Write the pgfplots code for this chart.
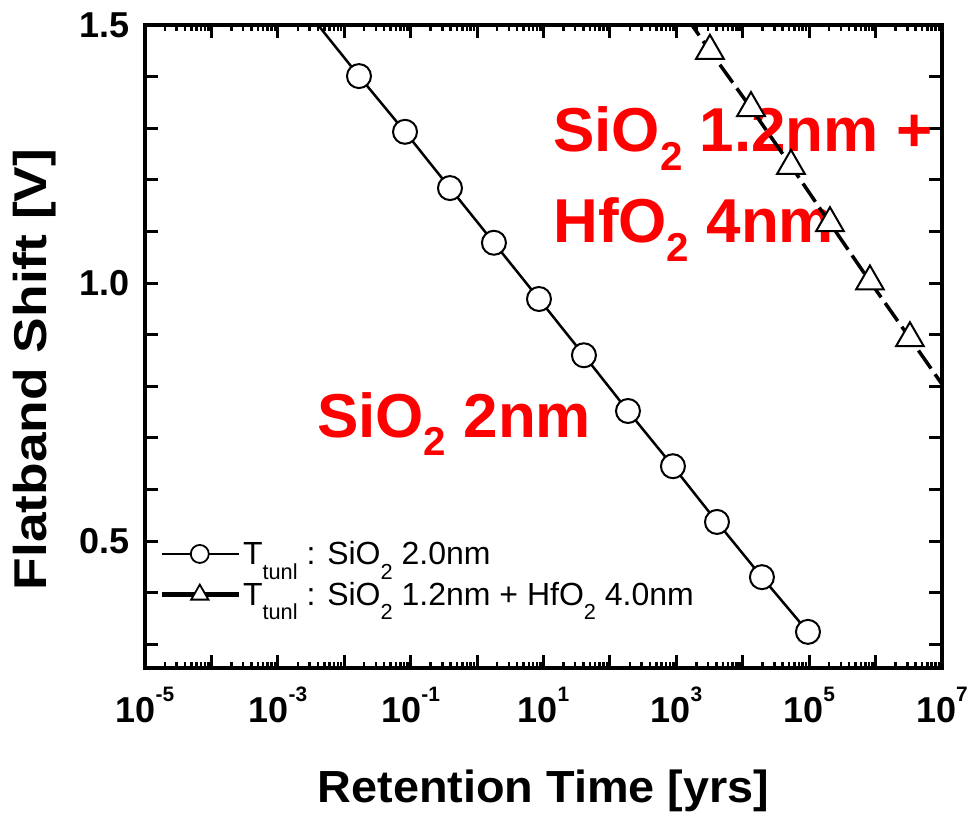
\documentclass[border=0pt]{standalone}
\usepackage{fontspec}
\setmainfont{Liberation Sans}
\usepackage{graphicx}
\usepackage{pgfplots}
\pgfplotsset{compat=1.18}

\newcommand{\sub}[1]{\raisebox{-0.3em}{\scalebox{0.65}{#1}}}
\newcommand{\lsub}[1]{\raisebox{-0.45em}{\scalebox{0.68}{#1}}}
\newcommand{\tl}[1]{10\raisebox{0.6em}{\scalebox{0.58}{#1}}}

\begin{document}
\begin{tikzpicture}
\begin{axis}[
  name=ax, at={(0pt,0pt)}, anchor=south west,
  scale only axis, width=797pt, height=643pt,
  xmode=log, log basis x=10,
  xmin=1e-5, xmax=1e7, ymin=0.254, ymax=1.5,
  axis line style={line width=4pt, line cap=rect},
  tick align=inside,
  major tick length=13pt, minor tick length=6pt,
  major tick style={line width=3pt, black},
  minor tick style={line width=2.5pt, black},
  xtick={1e-5,1e-4,1e-3,1e-2,1e-1,1,1e1,1e2,1e3,1e4,1e5,1e6,1e7},
  minor xtick={2e-5,3e-5,4e-5,5e-5,6e-5,7e-5,8e-5,9e-5,
    2e-4,3e-4,4e-4,5e-4,6e-4,7e-4,8e-4,9e-4,
    2e-3,3e-3,4e-3,5e-3,6e-3,7e-3,8e-3,9e-3,
    2e-2,3e-2,4e-2,5e-2,6e-2,7e-2,8e-2,9e-2,
    0.2,0.3,0.4,0.5,0.6,0.7,0.8,0.9,
    2,3,4,5,6,7,8,9,
    20,30,40,50,60,70,80,90,
    200,300,400,500,600,700,800,900,
    2000,3000,4000,5000,6000,7000,8000,9000,
    2e4,3e4,4e4,5e4,6e4,7e4,8e4,9e4,
    2e5,3e5,4e5,5e5,6e5,7e5,8e5,9e5,
    2e6,3e6,4e6,5e6,6e6,7e6,8e6,9e6},
  xticklabels={\tl{-5},{},\tl{-3},{},\tl{-1},{},\tl{1},{},\tl{3},{},\tl{5},{},\tl{7}},
  ytick={0.3,0.4,0.5,0.6,0.7,0.8,0.9,1.0,1.1,1.2,1.3,1.4,1.5},
  yticklabels={{},{},0.5,{},{},{},{},1.0,{},{},{},{},1.5},
  tick label style={font=\fontsize{36}{36}\selectfont\bfseries},
  xticklabel style={anchor=base, inner sep=0pt, yshift=-55pt},
  yticklabel style={anchor=east, inner sep=0pt, xshift=-15pt},
  xlabel={\scalebox{1.04}[1]{Retention Time [yrs]}},
  ylabel={\scalebox{1.16}[1]{Flatband Shift [V]}},
  xlabel style={font=\fontsize{45}{45}\selectfont\bfseries, at={(axis description cs:0.5,0)}, anchor=base, inner sep=0pt, yshift=-135pt},
  ylabel style={font=\fontsize{46}{46}\selectfont\bfseries, at={(axis description cs:0,0.5)}, anchor=base, inner sep=0pt, yshift=98pt, xshift=-23pt},
  clip marker paths=true,
  legend style={draw=none, fill=none, at={(rel axis cs:0.018,0.2)}, anchor=north west,
    font=\fontsize{32}{32}\selectfont, row sep=12pt, inner sep=0pt,
    nodes={inner sep=2pt}},
  legend cell align=left,
  legend image code/.code={\draw[mark repeat=2,mark phase=2,#1] plot coordinates {(0pt,0pt) (38pt,0pt) (77pt,0pt)};},
]
\addlegendimage{black, line width=2pt, mark=*, mark options={fill=white, draw=black, line width=1.8pt}, mark size=9pt}
\addlegendentry{T\lsub{tunl} : SiO\lsub{2} 2.0nm}
\addlegendimage{black, line width=4.5pt, mark=triangle*, mark options={fill=white, draw=black, line width=1.8pt}, mark size=10pt}
\addlegendentry{T\lsub{tunl} : SiO\lsub{2} 1.2nm + HfO\lsub{2} 4.0nm}

\node[anchor=base west, inner sep=0pt, text=red, font=\fontsize{62}{62}\selectfont\bfseries] at (rel axis cs:0.2158,0.359) {SiO\sub{2} 2nm};
\node[anchor=base west, inner sep=0pt, text=red, font=\fontsize{62}{62}\selectfont\bfseries] at (rel axis cs:0.512,0.8025) {SiO\sub{2} 1.2nm +};
\node[anchor=base west, inner sep=0pt, text=red, font=\fontsize{62}{62}\selectfont\bfseries] at (rel axis cs:0.512,0.661) {HfO\sub{2} 4nm};

\addplot[black, line width=2.5pt, mark=*, mark size=12pt,
  mark options={fill=white, draw=black, line width=2pt, solid}, forget plot]
  coordinates {
  (0.003548,1.509) (0.01667,1.401) (0.08222,1.293) (0.3908,1.184)
  (1.795,1.078) (8.551,0.969) (40.64,0.860) (187.1,0.752)
  (889.2,0.645) (4093,0.537) (19450,0.430) (95940,0.324)
  };
\addplot[black, line width=3.5pt, dash pattern=on 22pt off 7pt, mark=triangle*, mark size=16pt,
  mark options={fill=white, draw=black, line width=2pt, solid}, forget plot]
  coordinates {
  (801.7,1.561) (3206,1.450) (13305,1.339) (53211,1.227) (205590,1.116)
  (822240,1.003) (3288500,0.893) (13152000,0.782)
  };
\end{axis}
\pgfresetboundingbox
\path[use as bounding box] (-145pt,-145pt) rectangle (822pt,668pt);
\end{tikzpicture}
\end{document}
